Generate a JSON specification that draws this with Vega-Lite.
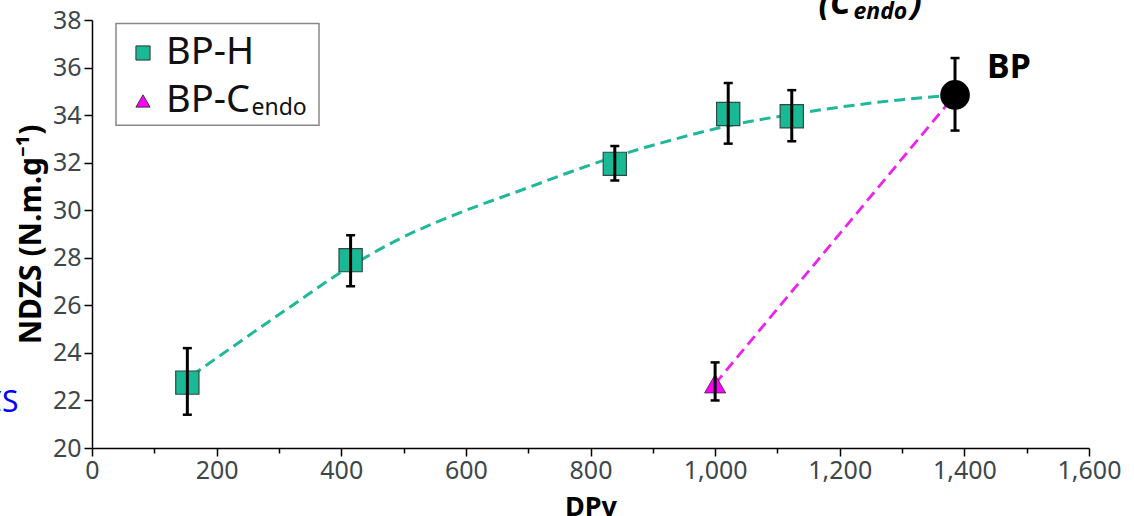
{
  "$schema": "https://vega.github.io/schema/vega-lite/v6.json",
  "width": 997,
  "height": 428,
  "autosize": {"type": "none"},
  "padding": {"left": 92, "top": 20, "right": 45, "bottom": 68},
  "background": "white",
  "config": {
    "view": {"stroke": null},
    "font": "Noto Sans",
    "axis": {"grid": false}
  },
  "datasets": {
    "pts": [
      {"series": "BP-H", "DPv": 153, "NDZS": 22.75, "lo": 21.4, "hi": 24.2},
      {"series": "BP-H", "DPv": 415, "NDZS": 27.9, "lo": 26.8, "hi": 28.95},
      {"series": "BP-H", "DPv": 839, "NDZS": 31.95, "lo": 31.25, "hi": 32.7},
      {"series": "BP-H", "DPv": 1021, "NDZS": 34.05, "lo": 32.8, "hi": 35.35},
      {"series": "BP-H", "DPv": 1123, "NDZS": 33.95, "lo": 32.9, "hi": 35.05},
      {"series": "BP-Cendo", "DPv": 1000, "NDZS": 22.7, "lo": 22.0, "hi": 23.6},
      {"series": "BP", "DPv": 1385, "NDZS": 34.85, "lo": 33.35, "hi": 36.4}
    ],
    "curve": [
      {"DPv": 160, "NDZS": 23.05},
      {"DPv": 250, "NDZS": 24.7},
      {"DPv": 330, "NDZS": 26.15},
      {"DPv": 400, "NDZS": 27.4},
      {"DPv": 494, "NDZS": 28.8},
      {"DPv": 591, "NDZS": 29.9},
      {"DPv": 700, "NDZS": 30.95},
      {"DPv": 751, "NDZS": 31.45},
      {"DPv": 839, "NDZS": 32.25},
      {"DPv": 930, "NDZS": 32.95},
      {"DPv": 1021, "NDZS": 33.55},
      {"DPv": 1123, "NDZS": 34.03},
      {"DPv": 1233, "NDZS": 34.45},
      {"DPv": 1300, "NDZS": 34.65},
      {"DPv": 1385, "NDZS": 34.85}
    ],
    "magline": [
      {"DPv": 1000, "NDZS": 22.7},
      {"DPv": 1385, "NDZS": 34.85}
    ]
  },
  "layer": [
    {
      "data": {"name": "curve"},
      "mark": {"type": "line", "color": "#1fb898", "strokeWidth": 3, "strokeDash": [11, 6], "interpolate": "monotone"},
      "encoding": {
        "x": {
          "field": "DPv", "type": "quantitative",
          "scale": {"domain": [0, 1600], "nice": false, "zero": false},
          "axis": {
            "title": "DPv",
            "values": [0,50,100,150,200,250,300,350,400,450,500,550,600,650,700,750,800,850,900,950,1000,1050,1100,1150,1200,1250,1300,1350,1400,1450,1500,1550,1600],
            "format": ",d",
            "labelExpr": "datum.value % 200 === 0 ? datum.label : ''",
            "tickSize": {"condition": {"test": "datum.value % 200 === 0", "value": 8}, "value": 5},
            "labelOverlap": false,
            "labelFlush": false,
            "grid": false,
            "domainColor": "black", "domainWidth": 1.5,
            "tickColor": "black", "tickWidth": 1.5,
            "labelFontSize": 25, "labelColor": "#3d474b", "labelPadding": 2,
            "titleFontSize": 27, "titleFontWeight": "bold", "titleColor": "black", "titlePadding": 11
          }
        },
        "y": {
          "field": "NDZS", "type": "quantitative",
          "scale": {"domain": [20, 38], "nice": false, "zero": false},
          "axis": {
            "title": "NDZS (N.m.g⁻¹)",
            "values": [20,20.5,21,21.5,22,22.5,23,23.5,24,24.5,25,25.5,26,26.5,27,27.5,28,28.5,29,29.5,30,30.5,31,31.5,32,32.5,33,33.5,34,34.5,35,35.5,36,36.5,37,37.5,38],
            "format": "d",
            "labelExpr": "datum.value % 2 === 0 ? datum.label : ''",
            "tickSize": {"condition": {"test": "datum.value % 2 === 0", "value": 8}, "value": 5},
            "labelOverlap": false,
            "labelFlush": false,
            "grid": false,
            "domainColor": "black", "domainWidth": 1.5,
            "tickColor": "black", "tickWidth": 1.5,
            "labelFontSize": 25, "labelColor": "#3d474b", "labelPadding": 3,
            "titleFontSize": 30, "titleFontWeight": "bold", "titleColor": "black", "titlePadding": 6
          }
        }
      }
    },
    {
      "data": {"values": [{}]},
      "mark": {"type": "rect", "fill": "white", "stroke": "#888888", "strokeWidth": 1.5},
      "encoding": {
        "x": {"datum": 38.5}, "x2": {"datum": 364.3},
        "y": {"datum": 37.857}, "y2": {"datum": 33.57}
      }
    },
    {
      "data": {"name": "magline"},
      "mark": {"type": "line", "color": "#ee22ee", "strokeWidth": 2.8, "strokeDash": [11, 6]},
      "encoding": {
        "x": {"field": "DPv", "type": "quantitative"},
        "y": {"field": "NDZS", "type": "quantitative"}
      }
    },
    {
      "data": {"name": "pts"},
      "transform": [{"filter": "datum.series === 'BP-H'"}],
      "mark": {"type": "point", "shape": "square", "filled": true, "size": 540, "stroke": "#2f4a44", "strokeWidth": 1.2, "opacity": 1},
      "encoding": {
        "x": {"field": "DPv", "type": "quantitative"},
        "y": {"field": "NDZS", "type": "quantitative"},
        "color": {
          "field": "series", "type": "nominal",
          "scale": {"domain": ["BP-H", "BP-Cendo"], "range": ["#19b995", "#ff00ff"]},
          "legend": {
            "title": null, "orient": "none", "legendX": 13, "legendY": 2, "direction": "vertical",
            "labelExpr": "datum.label === 'BP-Cendo' ? 'BP-C' : datum.label",
            "labelFontSize": 38, "labelColor": "#111111", "labelFont": "Noto Sans",
            "symbolSize": 200, "symbolStrokeColor": "#333333", "symbolStrokeWidth": 1, "symbolOffset": 7,
            "labelOffset": 4, "rowPadding": 10, "padding": 12,
            "strokeColor": null, "fillColor": null
          }
        },
        "shape": {
          "field": "series", "type": "nominal",
          "scale": {"domain": ["BP-H", "BP-Cendo"], "range": ["square", "triangle-up"]},
          "legend": {
            "title": null, "orient": "none", "legendX": 13, "legendY": 2, "direction": "vertical",
            "labelExpr": "datum.label === 'BP-Cendo' ? 'BP-C' : datum.label",
            "labelFontSize": 38, "labelColor": "#111111", "labelFont": "Noto Sans",
            "symbolSize": 200, "symbolStrokeColor": "#333333", "symbolStrokeWidth": 1, "symbolOffset": 7,
            "labelOffset": 4, "rowPadding": 10, "padding": 12,
            "strokeColor": null, "fillColor": null
          }
        }
      }
    },
    {
      "data": {"name": "pts"},
      "transform": [{"filter": "datum.series === 'BP-Cendo'"}],
      "mark": {"type": "point", "shape": "triangle-up", "filled": true, "size": 440, "stroke": "#5a2a5a", "strokeWidth": 1, "opacity": 1},
      "encoding": {
        "x": {"field": "DPv", "type": "quantitative"},
        "y": {"field": "NDZS", "type": "quantitative"},
        "color": {"field": "series", "type": "nominal"},
        "shape": {"field": "series", "type": "nominal"}
      }
    },
    {
      "data": {"name": "pts"},
      "transform": [{"filter": "datum.series === 'BP'"}],
      "mark": {"type": "point", "shape": "circle", "filled": true, "size": 880, "color": "black", "opacity": 1},
      "encoding": {
        "x": {"field": "DPv", "type": "quantitative"},
        "y": {"field": "NDZS", "type": "quantitative"}
      }
    },
    {
      "data": {"name": "pts"},
      "mark": {"type": "rule", "color": "black", "strokeWidth": 3},
      "encoding": {
        "x": {"field": "DPv", "type": "quantitative"},
        "y": {"field": "lo", "type": "quantitative"},
        "y2": {"field": "hi"}
      }
    },
    {
      "data": {"name": "pts"},
      "mark": {"type": "tick", "orient": "horizontal", "color": "black", "size": 9, "thickness": 2.5, "opacity": 1},
      "encoding": {
        "x": {"field": "DPv", "type": "quantitative"},
        "y": {"field": "lo", "type": "quantitative"}
      }
    },
    {
      "data": {"name": "pts"},
      "mark": {"type": "tick", "orient": "horizontal", "color": "black", "size": 9, "thickness": 2.5, "opacity": 1},
      "encoding": {
        "x": {"field": "DPv", "type": "quantitative"},
        "y": {"field": "hi", "type": "quantitative"}
      }
    },
    {
      "data": {"name": "pts"},
      "transform": [{"filter": "datum.series === 'BP'"}],
      "mark": {"type": "text", "align": "left", "baseline": "middle", "dx": 32, "dy": -27, "fontSize": 34, "fontWeight": "bold", "color": "black"},
      "encoding": {
        "x": {"field": "DPv", "type": "quantitative"},
        "y": {"field": "NDZS", "type": "quantitative"},
        "text": {"field": "series"}
      }
    },
    {
      "data": {"values": [{}]},
      "mark": {"type": "text", "text": "endo", "align": "left", "baseline": "alphabetic", "fontSize": 23, "color": "#111111"},
      "encoding": {"x": {"datum": 256}, "y": {"datum": 34.0}}
    },
    {
      "data": {"values": [{}]},
      "mark": {"type": "text", "text": "(C", "align": "left", "baseline": "alphabetic", "fontSize": 34, "fontWeight": "bold", "fontStyle": "italic", "color": "black"},
      "encoding": {"x": {"datum": 1166}, "y": {"datum": 38.235}}
    },
    {
      "data": {"values": [{}]},
      "mark": {"type": "text", "text": "endo", "align": "left", "baseline": "alphabetic", "fontSize": 23, "fontWeight": "bold", "fontStyle": "italic", "color": "black"},
      "encoding": {"x": {"datum": 1222}, "y": {"datum": 38.03}}
    },
    {
      "data": {"values": [{}]},
      "mark": {"type": "text", "text": ")", "align": "left", "baseline": "alphabetic", "fontSize": 34, "fontWeight": "bold", "fontStyle": "italic", "color": "black"},
      "encoding": {"x": {"datum": 1313}, "y": {"datum": 38.235}}
    },
    {
      "data": {"values": [{}]},
      "mark": {"type": "text", "text": "CS", "align": "right", "baseline": "alphabetic", "fontSize": 30, "color": "#0000ff"},
      "encoding": {"x": {"datum": -118}, "y": {"datum": 21.51}}
    }
  ]
}
